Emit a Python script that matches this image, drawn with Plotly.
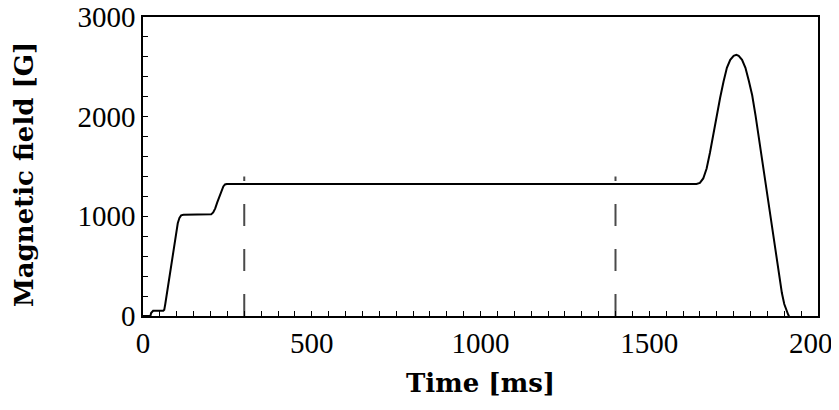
import plotly.graph_objects as go

# Magnetic field ramp
time_ms = [0, 22, 24, 27, 30, 60, 63, 66, 75, 85, 95, 103, 108, 113, 120,
           195, 202, 208, 214, 220, 226, 232, 238, 243, 248,
           1640, 1650, 1660, 1670, 1680, 1690, 1700, 1710, 1720, 1730, 1740,
           1750, 1758, 1765, 1775, 1785, 1795, 1805, 1815, 1825, 1835, 1845,
           1855, 1865, 1875, 1885, 1893, 1900, 1907, 1912, 1915]
field_G = [0, 0, 30, 48, 52, 52, 62, 120, 320, 540, 760, 930, 985, 1010, 1015,
           1015, 1020, 1040, 1080, 1140, 1200, 1260, 1300, 1320, 1325,
           1325, 1335, 1380, 1480, 1640, 1830, 2020, 2190, 2350, 2490, 2570,
           2610, 2620, 2610, 2570, 2490, 2360, 2215, 2010, 1780, 1550, 1320,
           1090, 860, 630, 400, 230, 120, 45, 10, 0]

# Dashed markers
marker_times = [300, 1400]
marker_top = 1400

x_ticks = [0, 500, 1000, 1500, 2000]
y_ticks = [0, 1000, 2000, 3000]

fig = go.Figure()
for t in marker_times:
    fig.add_trace(go.Scatter(x=[t, t], y=[0, marker_top], mode="lines",
                             line=dict(color="#4a4a4a", width=2, dash="22px,23px"),
                             hoverinfo="skip", showlegend=False))
fig.add_trace(go.Scatter(x=time_ms, y=field_G, mode="lines",
                         line=dict(color="black", width=2),
                         showlegend=False))

tickfont = dict(family="Liberation Serif", size=29, color="black")
fig.update_xaxes(range=[0, 2000], tickvals=x_ticks, ticktext=[str(v) for v in x_ticks],
                 ticks="inside", ticklen=5, tickwidth=1.3, tickcolor="black",
                 minor=dict(dtick=50, tick0=0, ticks="inside", ticklen=5, tickwidth=1.3, tickcolor="black"),
                 showline=True, linecolor="black", linewidth=1.5, mirror=True,
                 showgrid=False, zeroline=False, tickfont=tickfont, automargin=False,
                 ticklabeloverflow="allow")
fig.update_yaxes(range=[0, 3000], tickvals=y_ticks, ticktext=[str(v) for v in y_ticks],
                 ticks="inside", ticklen=5, tickwidth=1.3, tickcolor="black",
                 minor=dict(dtick=200, tick0=0, ticks="inside", ticklen=5, tickwidth=1.3, tickcolor="black"),
                 showline=True, linecolor="black", linewidth=1.5, mirror=True,
                 showgrid=False, zeroline=False, tickfont=tickfont, automargin=False,
                 ticklabeloverflow="allow")

titlefont = dict(family="DejaVu Serif", size=26, color="black")
fig.add_annotation(text="<b>Time [ms]</b>", xref="paper", yref="paper",
                   x=0.5, y=-0.224, xanchor="center", yanchor="middle",
                   showarrow=False, font=titlefont)
fig.add_annotation(text="<b>Magnetic field [G]</b>", xref="paper", yref="paper",
                   x=-0.176, y=0.472, xanchor="center", yanchor="middle", textangle=-90,
                   showarrow=False, font=titlefont)

fig.update_layout(width=839, height=410,
                  margin=dict(l=135, r=29, t=9, b=102),
                  paper_bgcolor="white", plot_bgcolor="white")
fig.write_html("out.html")
